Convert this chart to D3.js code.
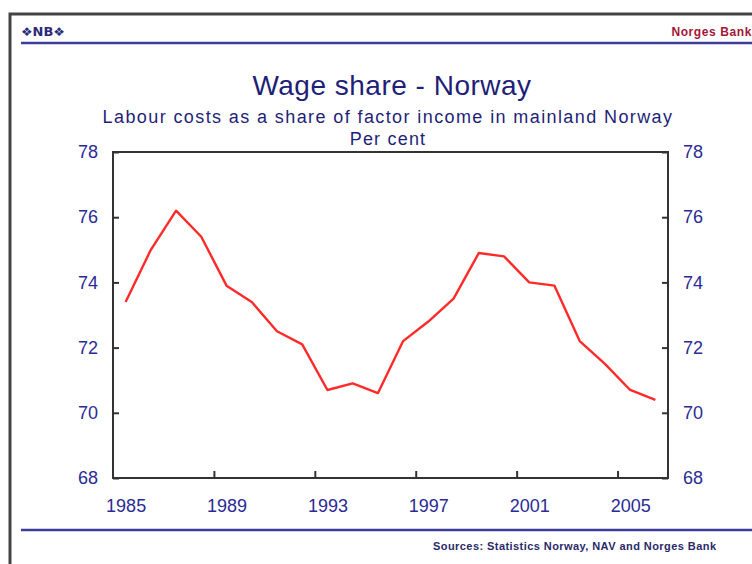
<!DOCTYPE html>
<html lang="en">
<head>
<meta charset="UTF-8">
<title>Wage share - Norway</title>
<style>
  body { margin: 0; background: #fff; }
  svg { display: block; font-family: "Liberation Sans", Arial, sans-serif; }
  .axis path.domain { display: none; }
  .axis line { stroke: #333; stroke-width: 2; }
  .axis text { font-size: 18px; fill: #2b2b95; }
</style>
</head>
<body>
<svg width="752" height="564"></svg>
<script src="https://d3js.org/d3.v7.min.js"></script>
<script>
// data
const years = d3.range(1985, 2007);
const wageShare = [73.4, 75.0, 76.2, 75.4, 73.9, 73.4, 72.5, 72.1, 70.7, 70.9, 70.6,
                   72.2, 72.8, 73.5, 74.9, 74.8, 74.0, 73.9, 72.2, 71.5, 70.7, 70.4];
const yTicks = [68, 70, 72, 74, 76, 78];
const xLabels = [1985, 1989, 1993, 1997, 2001, 2005];
const xTickMarks = [1989, 1993, 1997, 2001, 2005];

const svg = d3.select("svg");
const plot = { left: 113, right: 668, top: 152, bottom: 478 };
const navy = "#1f1f78";

// frame of the slide
svg.append("path")
  .attr("d", "M10,564 V14 H752")
  .attr("fill", "none").attr("stroke", "#444").attr("stroke-width", 3);
svg.append("line").attr("x1", 21).attr("x2", 752).attr("y1", 43).attr("y2", 43)
  .attr("stroke", "#3c3c9c").attr("stroke-width", 2.5);
svg.append("line").attr("x1", 21).attr("x2", 752).attr("y1", 530).attr("y2", 530)
  .attr("stroke", "#3c3c9c").attr("stroke-width", 2.5);

// header
svg.append("text").attr("x", 21).attr("y", 36)
  .attr("font-size", 12).attr("font-weight", "bold").attr("fill", "#2a2a7a")
  .attr("font-family", "DejaVu Sans, sans-serif")
  .attr("textLength", 44).attr("lengthAdjust", "spacingAndGlyphs")
  .text("\u2756NB\u2756");
svg.append("text").attr("x", 752).attr("y", 36).attr("text-anchor", "end")
  .attr("font-size", 12).attr("font-weight", "bold").attr("fill", "#a3163a")
  .attr("letter-spacing", 0.6)
  .text("Norges Bank");

// titles
svg.append("text").attr("x", 392).attr("y", 95).attr("text-anchor", "middle")
  .attr("font-size", 28).attr("letter-spacing", 0.5).attr("fill", navy)
  .text("Wage share - Norway");
svg.append("text").attr("x", 388).attr("y", 123).attr("text-anchor", "middle")
  .attr("font-size", 18).attr("letter-spacing", 1.4).attr("fill", navy)
  .text("Labour costs as a share of factor income in mainland Norway");
svg.append("text").attr("x", 388).attr("y", 145).attr("text-anchor", "middle")
  .attr("font-size", 18).attr("letter-spacing", 1.2).attr("fill", navy)
  .text("Per cent");

// scales
const x = d3.scaleLinear().domain([1984.5, 2006.5]).range([plot.left, plot.right]);
const y = d3.scaleLinear().domain([68, 78]).range([plot.bottom, plot.top]);

// axes
svg.append("g").attr("class", "axis")
  .attr("transform", `translate(${plot.left},0)`)
  .call(d3.axisLeft(y).tickValues(yTicks).tickSize(-6).tickPadding(15));
svg.append("g").attr("class", "axis")
  .attr("transform", `translate(${plot.right},0)`)
  .call(d3.axisRight(y).tickValues(yTicks).tickSize(-6).tickPadding(15));

svg.append("g").attr("class", "axis")
  .attr("transform", `translate(0,${plot.bottom})`)
  .call(d3.axisBottom(x).tickValues(xTickMarks.map(d => d - 0.5)).tickSize(-7).tickFormat(""));
svg.append("g").attr("class", "axis")
  .attr("transform", `translate(0,${plot.bottom})`)
  .call(d3.axisBottom(x).tickValues(xLabels).tickSize(0).tickPadding(21).tickFormat(d3.format("d")));

// plot frame
svg.append("rect")
  .attr("x", plot.left).attr("y", plot.top)
  .attr("width", plot.right - plot.left).attr("height", plot.bottom - plot.top)
  .attr("fill", "none").attr("stroke", "#333").attr("stroke-width", 2);

// line
const line = d3.line().x((d, i) => x(years[i])).y(d => y(d));
svg.append("path")
  .datum(wageShare)
  .attr("d", line)
  .attr("fill", "none").attr("stroke", "#ff2a2a").attr("stroke-width", 2.4)
  .attr("stroke-linejoin", "round");

// source
svg.append("text").attr("x", 433).attr("y", 550)
  .attr("font-size", 11).attr("font-weight", "bold").attr("fill", "#2a2a6a")
  .attr("textLength", 283).attr("lengthAdjust", "spacing")
  .text("Sources: Statistics Norway, NAV and Norges Bank");
</script>
</body>
</html>
